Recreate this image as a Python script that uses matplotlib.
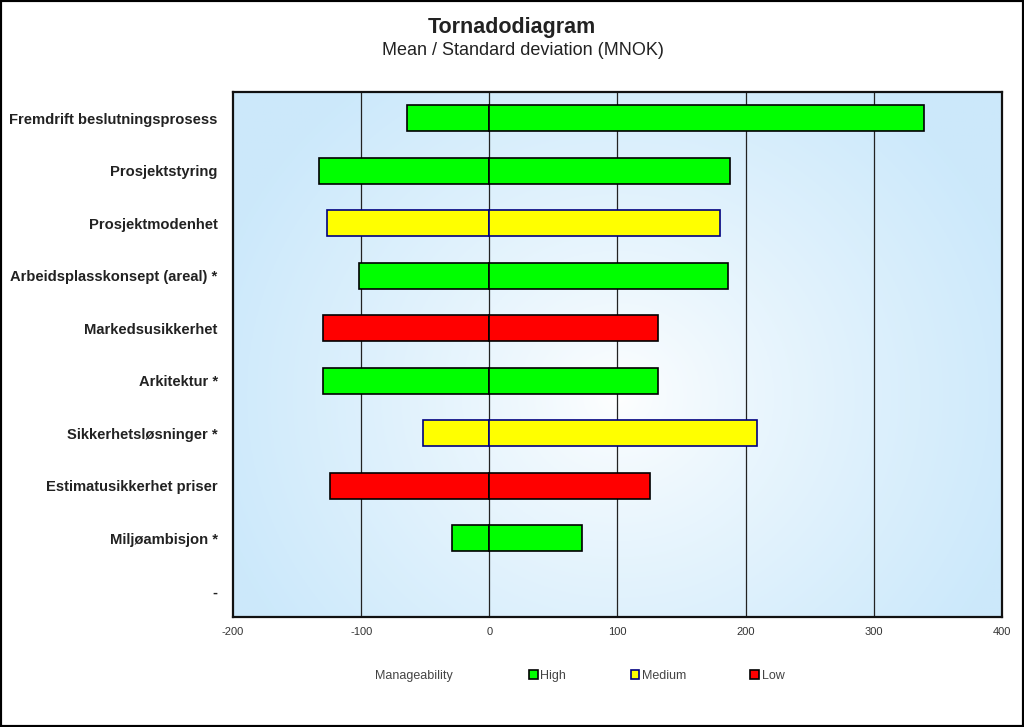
import numpy as np
import matplotlib
matplotlib.use("Agg")
import matplotlib.pyplot as plt
from matplotlib.patches import Patch, Rectangle

plt.rcParams["font.family"] = ["Liberation Sans", "DejaVu Sans"]

categories = [
    "Fremdrift beslutningsprosess",
    "Prosjektstyring",
    "Prosjektmodenhet",
    "Arbeidsplasskonsept (areal) *",
    "Markedsusikkerhet",
    "Arkitektur *",
    "Sikkerhetsløsninger *",
    "Estimatusikkerhet priser",
    "Miljøambisjon *",
    "-",
]
low_values = [-64, -133, -127, -102, -130, -130, -52, -124, -29, 0]
high_values = [339, 188, 180, 186, 132, 132, 209, 125, 72, 0]
manageability = ["High", "High", "Medium", "High", "Low", "High", "Medium", "Low", "High", None]

fill_colors = {"High": "#00ff00", "Medium": "#ffff00", "Low": "#ff0000"}
edge_colors = {"High": "#000000", "Medium": "#000080", "Low": "#000000"}

fig = plt.figure(figsize=(10.24, 7.27), dpi=100)
ax = fig.add_axes([0.2275, 0.1513, 0.751, 0.7222])

# radial light-blue background
gx, gy = np.meshgrid(np.linspace(0, 1, 300), np.linspace(0, 1, 300))
r = np.sqrt(((gx - 0.5) / 0.55) ** 2 + ((gy - 0.42) / 0.75) ** 2)
r = np.clip(r, 0, 1)
c0 = np.array([1.0, 1.0, 1.0])
c1 = np.array([0.80, 0.913, 0.984])
img = c0 + (c1 - c0) * r[..., None] ** 0.8
ax.imshow(img, extent=[0, 1, 0, 1], transform=ax.transAxes, aspect="auto", zorder=0, origin="lower")

y = np.arange(len(categories))
for i, m in enumerate(manageability):
    if m is None:
        continue
    ax.barh(y[i], low_values[i], height=0.5, color=fill_colors[m],
            edgecolor=edge_colors[m], linewidth=1.2, zorder=2)
    ax.barh(y[i], high_values[i], height=0.5, color=fill_colors[m],
            edgecolor=edge_colors[m], linewidth=1.2, zorder=2)

ax.set_xlim(-200, 400)
ax.set_ylim(len(categories) - 0.5, -0.5)
ax.set_xticks([-200, -100, 0, 100, 200, 300, 400])
ax.set_xticklabels(["-200", "-100", "0", "100", "200", "300", "400"])
ax.set_yticks(y)
ax.set_yticklabels(categories, fontsize=10.6, fontweight="bold", color="#222222")
ax.tick_params(axis="x", length=0, labelsize=8, labelcolor="#333333", pad=7)
ax.tick_params(axis="y", length=0, pad=11)
for xv in [-100, 0, 100, 200, 300]:
    ax.axvline(xv, color="#222222", linewidth=0.9, zorder=1)
for s in ax.spines.values():
    s.set_linewidth(1.6)
    s.set_color("#111111")
    s.set_zorder(5)

fig.text(0.5, 0.962, "Tornadodiagram", ha="center", va="center",
         fontsize=15.5, fontweight="bold", color="#222222")
fig.text(0.511, 0.931, "Mean / Standard deviation (MNOK)", ha="center", va="center",
         fontsize=13, color="#222222")

fig.text(375 / 1024, 0.07, "Manageability", ha="left", va="center", fontsize=9, color="#444444")
handles = [Patch(facecolor=fill_colors[k], edgecolor=edge_colors[k], linewidth=1.2, label=k)
           for k in ["High", "Medium", "Low"]]
fig.legend(handles=handles, loc="center left", bbox_to_anchor=(529 / 1024, 0.07), ncol=3,
           frameon=False, fontsize=9, handlelength=0.7, handleheight=0.7,
           handletextpad=0.2, columnspacing=5.15, labelcolor="#444444",
           borderpad=0, borderaxespad=0)

fig.patches.append(Rectangle((0, 0), 1, 1, transform=fig.transFigure, fill=False,
                             edgecolor="black", linewidth=3))

fig.savefig("out.png", dpi=100)
